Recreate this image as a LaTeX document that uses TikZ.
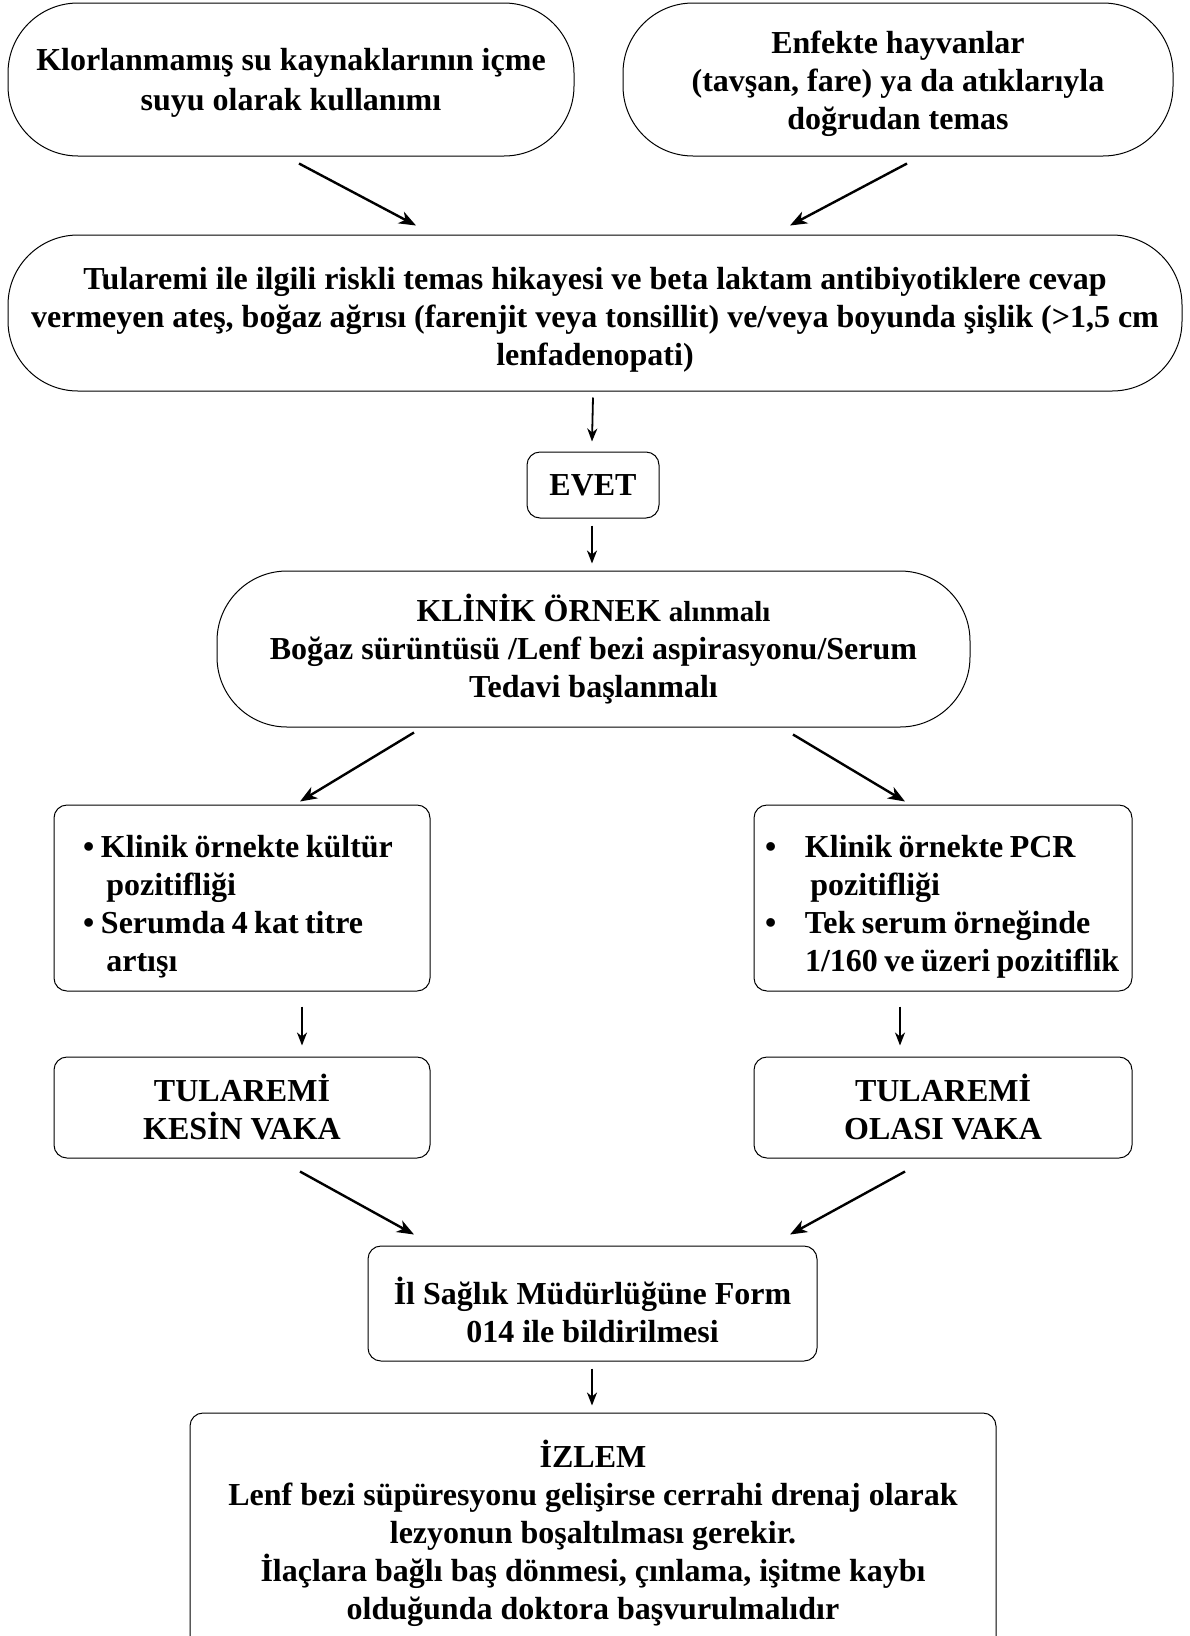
\documentclass[tikz,border=0pt]{standalone}
\usepackage{fontspec}
\setmainfont{Liberation Serif}
\usetikzlibrary{arrows.meta,calc}
\newcommand{\mydown}[2]{\raisebox{-#1}[\height][\depth]{\begin{tabular}{@{}c@{}}#2\end{tabular}}}
\begin{document}
\begin{tikzpicture}[x=1pt,y=-1pt,
  every node/.style={font=\bfseries\fontsize{32}{38}\selectfont, align=center, inner sep=0pt},
  pill/.style={draw, line width=1pt, rounded corners=70pt},
  rbox/.style={draw, line width=1pt, rounded corners=13pt},
  arrd/.style={line width=2.4pt, -{Stealth[length=17pt,width=13pt,inset=5pt]}},
  arrv/.style={line width=1.8pt, -{Stealth[length=13pt,width=10pt,inset=4pt]}}
]
\useasboundingbox (0,0) rectangle (1189,1636);
\fill[white] (0,0) rectangle (1189,1636);

\node[pill, minimum width=566pt, minimum height=153pt] (b1) at (291,79.5)
  {\fontsize{32}{40.5}\selectfont\mydown{3pt}{Klorlanmamış su kaynaklarının içme\\suyu olarak kullanımı}};
\node[pill, minimum width=550pt, minimum height=153pt] (b2) at (898,79.5)
  {\mydown{4pt}{Enfekte hayvanlar\\(tavşan, fare) ya da atıklarıyla\\doğrudan temas}};
\node[pill, minimum width=1174pt, minimum height=156pt] (b3) at (595,313)
  {\mydown{7pt}{Tularemi ile ilgili riskli temas hikayesi ve beta laktam antibiyotiklere cevap\\
   vermeyen ateş, boğaz ağrısı (farenjit veya tonsillit) ve/veya boyunda şişlik (>1,5 cm\\
   lenfadenopati)}};
\node[rbox, minimum width=132pt, minimum height=66pt] (evet) at (593,485) {EVET};
\node[pill, minimum width=753pt, minimum height=156pt] (b4) at (593.5,649)
  {\mydown{2pt}{KLİNİK ÖRNEK {\fontsize{29}{38}\selectfont alınmalı}\\Boğaz sürüntüsü /Lenf bezi aspirasyonu/Serum\\Tedavi başlanmalı}};
\node[rbox, minimum width=376pt, minimum height=186pt, align=left, text width=318pt] (b5) at (242,898)
  {\spaceskip=0.2em plus 0.05em\raisebox{-9pt}[\height][\depth]{\begin{tabular}{@{}p{18pt}@{}l@{}}
   • & Klinik örnekte kültür\\
     & \,pozitifliği\\
   • & Serumda 4 kat titre\\
     & \,artışı
   \end{tabular}}};
\node[rbox, minimum width=378pt, minimum height=186pt, align=left, text width=356pt] (b6) at (943,898)
  {\spaceskip=0.2em plus 0.05em\raisebox{-9pt}[\height][\depth]{\begin{tabular}{@{}p{40pt}@{}l@{}}
   • & Klinik örnekte PCR\\
     & \,pozitifliği\\
   • & Tek serum örneğinde\\
     & 1/160 ve üzeri pozitiflik
   \end{tabular}}};
\node[rbox, minimum width=376pt, minimum height=101pt] (b7) at (242,1107.5) {TULAREMİ\\KESİN VAKA};
\node[rbox, minimum width=378pt, minimum height=101pt] (b8) at (943,1107.5) {TULAREMİ\\OLASI VAKA};
\node[rbox, minimum width=449pt, minimum height=115pt] (b9) at (592.5,1303.5)
  {\mydown{12pt}{İl Sağlık Müdürlüğüne Form\\014 ile bildirilmesi}};
\node[rbox, minimum width=806pt, minimum height=240pt] (b10) at (593,1533)
  {İZLEM\\Lenf bezi süpüresyonu gelişirse cerrahi drenaj olarak\\lezyonun boşaltılması gerekir.\\İlaçlara bağlı baş dönmesi, çınlama, işitme kaybı\\olduğunda doktora başvurulmalıdır};

\draw[arrd] ($(b1.south)+(8,7)$) -- ($(b3.north)+(-179,-9)$);
\draw[arrd] ($(b2.south)+(9,7)$) -- ($(b3.north)+(195,-9)$);
\draw[arrv] ($(b3.south)+(-2,6)$) -- ($(evet.north)+(-1,-10)$);
\draw[arrv] ($(evet.south)+(-1,7)$) -- ($(b4.north)+(-1.5,-7)$);
\draw[arrd] ($(b4.south)+(-179.5,5)$) -- ($(b5.north)+(58,-3)$);
\draw[arrd] ($(b4.south)+(199.5,7)$) -- ($(b6.north)+(-38,-3)$);
\draw[arrv] ($(b5.south)+(60,15)$) -- ($(b7.north)+(60,-11)$);
\draw[arrv] ($(b6.south)+(-43,15)$) -- ($(b8.north)+(-43,-11)$);
\draw[arrd] ($(b7.south)+(58,13)$) -- ($(b9.north)+(-178.5,-11)$);
\draw[arrd] ($(b8.south)+(-38,13)$) -- ($(b9.north)+(197.5,-11)$);
\draw[arrv] ($(b9.south)+(-0.5,7)$) -- ($(b10.north)+(-1,-7)$);
\end{tikzpicture}
\end{document}
